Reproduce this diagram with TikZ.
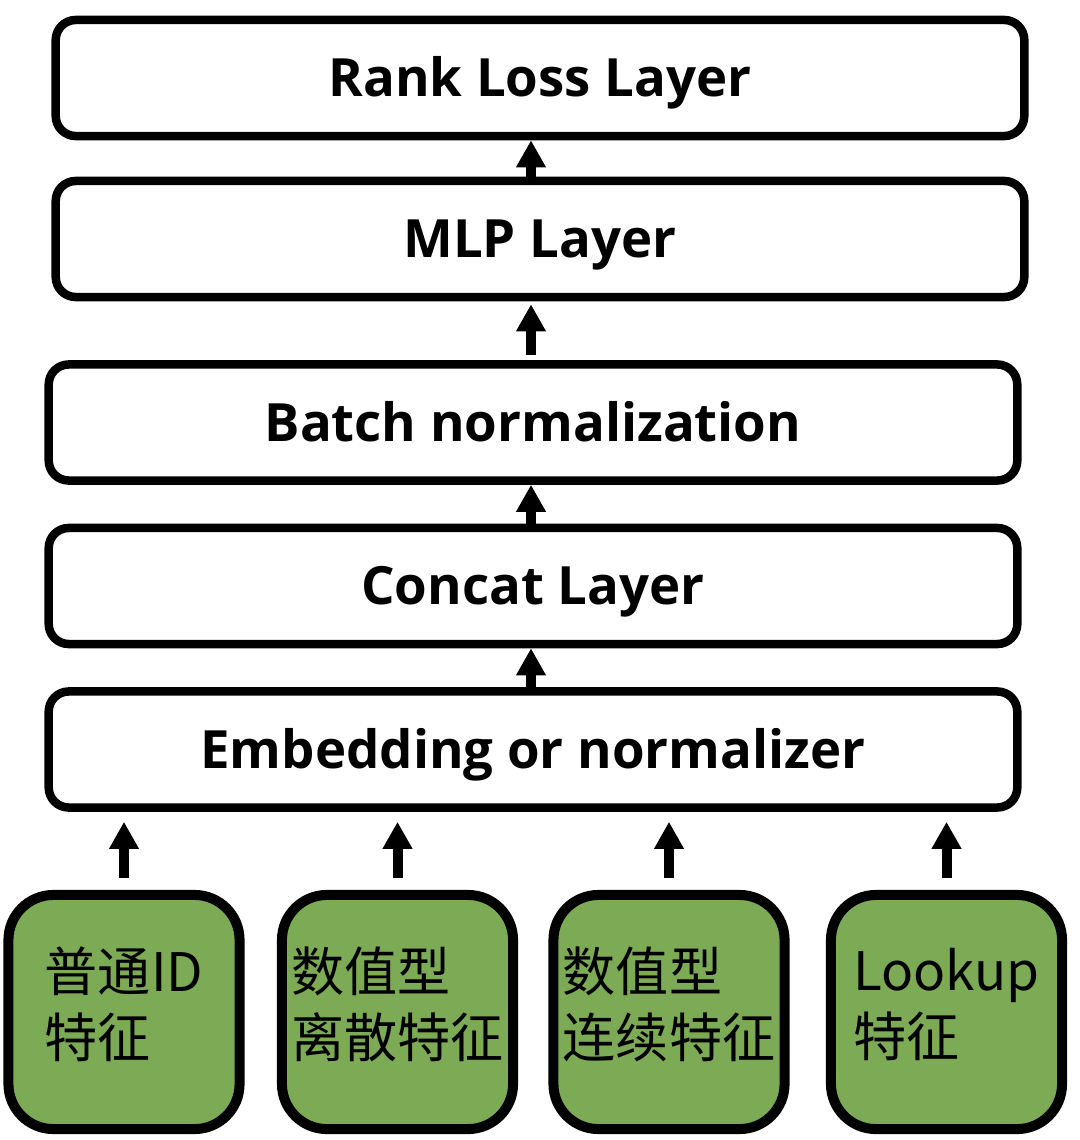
\documentclass[tikz,border=0pt]{standalone}
\usepackage{fontspec}
\setmainfont{Open Sans}
\newfontfamily\cjk{Noto Sans CJK SC}
\usetikzlibrary{arrows.meta}

\definecolor{featgreen}{RGB}{125,170,85}

\begin{document}
\begin{tikzpicture}[x=0.01cm, y=-0.01cm,
  layer/.style={draw, line width=0.085cm, rounded corners=0.2cm,
    minimum width=9.68cm, minimum height=1.16cm, inner sep=0pt,
    text height=10.7pt, text depth=0pt,
    font=\fontsize{15}{18}\selectfont\bfseries},
  feature/.style={draw, fill=featgreen, line width=0.1cm, rounded corners=0.45cm,
    minimum width=2.31cm, minimum height=2.34cm, inner sep=0pt, align=left,
    text depth=0.2cm, font=\cjk\fontsize{15.1}{18.8}\selectfont},
  uparrow/.style={-{Triangle[width=0.28cm,length=0.27cm]}, line width=0.1cm}]

% Picture size
\useasboundingbox (0,0) rectangle (1080,1140);

% Layer boxes
\node[layer] (rank)   at (540,78)    {Rank Loss Layer};
\node[layer] (mlp)    at (540,239)   {MLP Layer};
\node[layer] (batch)  at (533,422.5) {Batch normalization};
\node[layer] (concat) at (533,586)   {Concat Layer};
\node[layer] (embed)  at (533,749.5) {Embedding or normalizer};

% Input features
\node[feature] (idfeat)   at (124,1012)   {普通ID\\特征};
\node[feature] (discfeat) at (397.5,1012) {数值型\\离散特征};
\node[feature] (contfeat) at (669,1012)   {数值型\\连续特征};
\node[feature] (lookfeat) at (946.5,1012) {Lookup\\特征};

% Arrows between layers
\draw[uparrow] ([xshift=-0.09cm]mlp.north) -- ([xshift=-0.09cm]rank.south);
\draw[uparrow, shorten <=0.05cm, shorten >=0.03cm] ([xshift=-0.02cm]batch.north) -- ([xshift=-0.02cm]batch.north |- mlp.south);
\draw[uparrow] ([xshift=-0.02cm]concat.north) -- ([xshift=-0.02cm]batch.south);
\draw[uparrow] ([xshift=-0.02cm]embed.north) -- ([xshift=-0.02cm]concat.south);

% Arrows from features
\foreach \f in {idfeat, discfeat, contfeat, lookfeat}
  \draw[uparrow, shorten <=0.12cm, shorten >=0.1cm] (\f.north) -- (\f.north |- embed.south);

\end{tikzpicture}
\end{document}
